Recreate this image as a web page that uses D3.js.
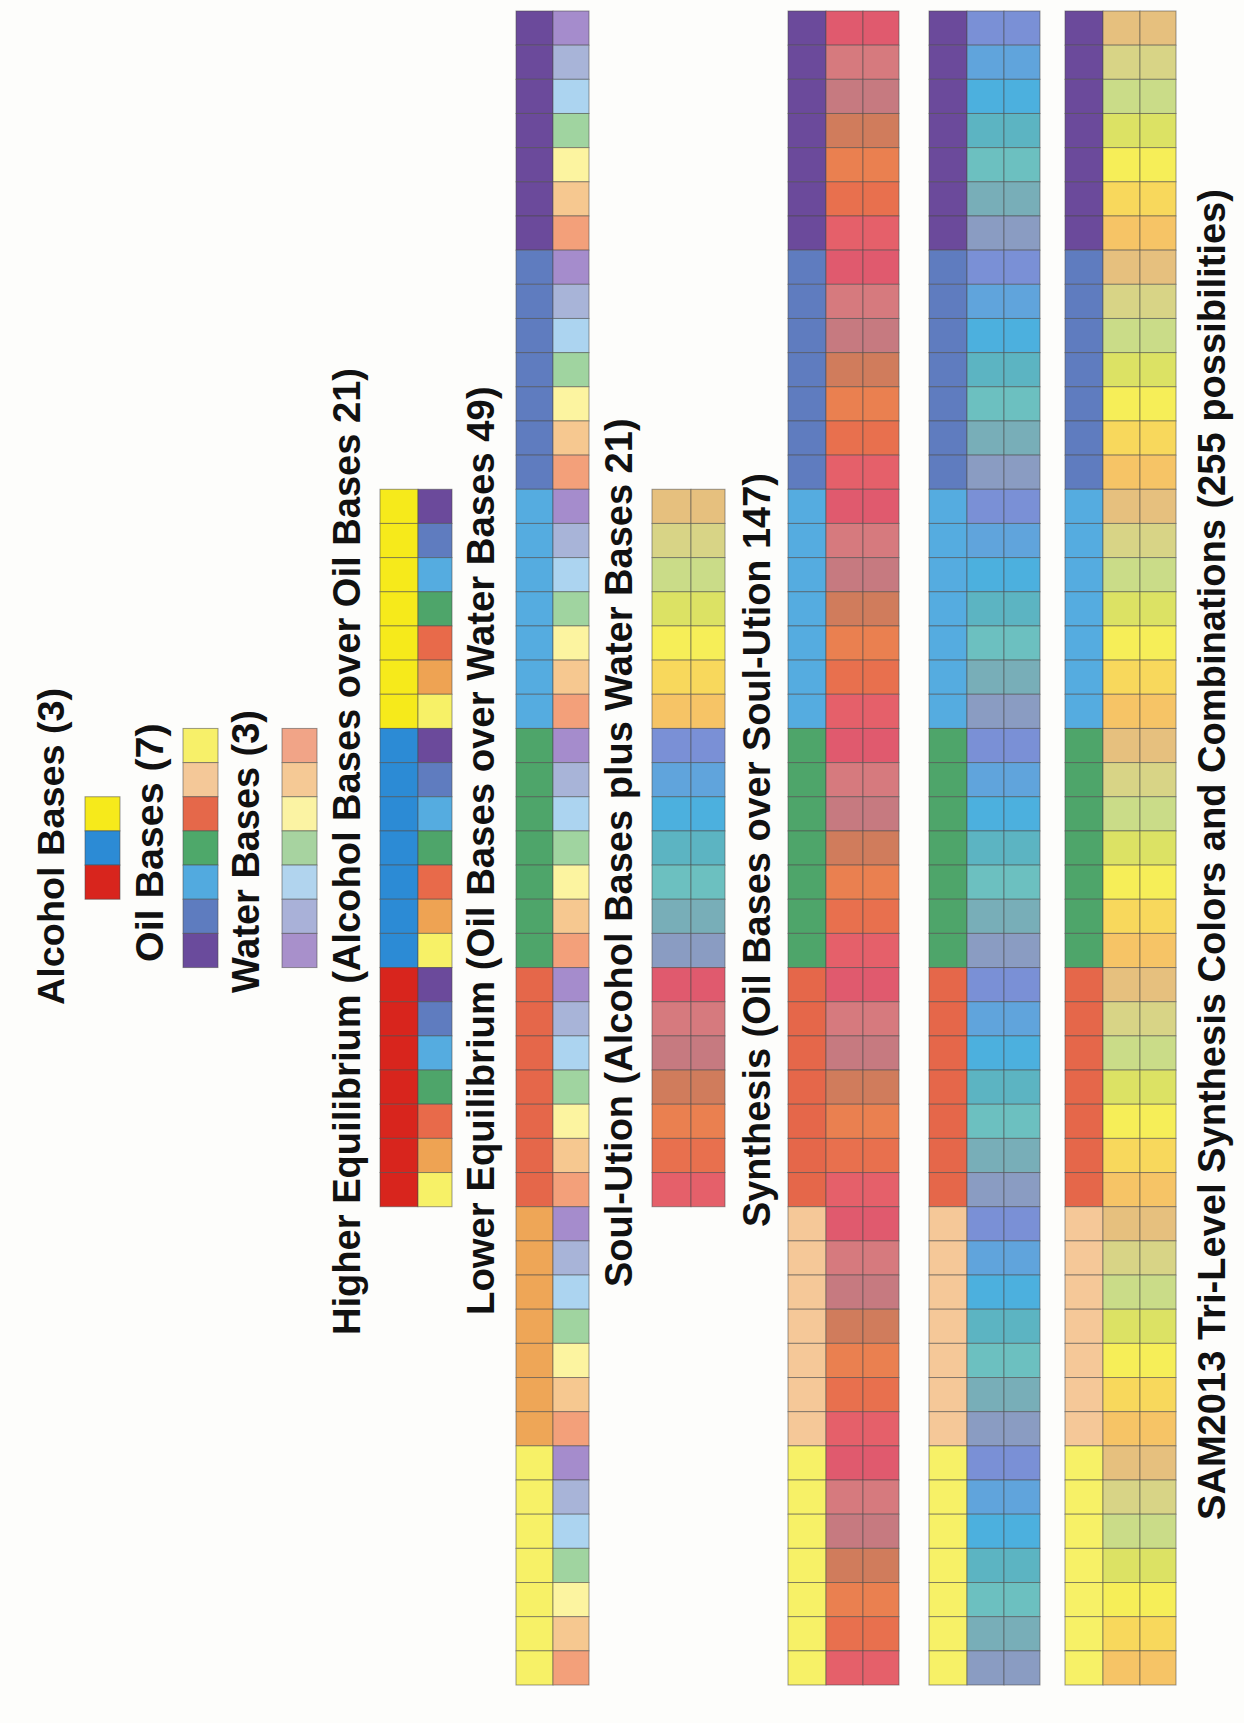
<!DOCTYPE html>
<html>
<head>
<meta charset="utf-8">
<script src="https://cdn.jsdelivr.net/npm/d3@7"></script>
<style>
  body { margin: 0; background: #fdfdfb; }
</style>
</head>
<body>
<div id="chart"></div>
<script>
// colours read top to bottom as they appear on the page
const alcoholBases = ["#f6ea1b", "#2c8bd5", "#d8251d"];
const oilBases = ["#f7f069", "#f4c898", "#e5684a", "#4ea86a", "#52aadf", "#5e7cbf", "#6a4b9c"];
const waterBases = ["#f1a487", "#f5c995", "#fbf3a3", "#a7d3a0", "#b1d4ee", "#a9b1d8", "#a890cb"];

// oil order used in the equilibrium grids (purple first)
const heOil = ["#6b4a9b", "#5f7cbf", "#55ace0", "#4ea56a", "#e86a4a", "#eea353", "#f7f167"];
const leOil = ["#6b4a9b", "#5f7cbf", "#55ace0", "#4ea56a", "#e5674a", "#eea657", "#f7f167"];
const leWater = ["#a58ccc", "#a8b4d8", "#acd4f0", "#a0d4a0", "#fcf4a0", "#f6c890", "#f3a07a"];

// soul-ution blends, one group per alcohol base
const soulYellow = ["#e6c07e", "#d8d486", "#cadc88", "#dce264", "#f6ee58", "#f8d85c", "#f6c466"];
const soulBlue = ["#7a90d6", "#60a4dc", "#4cb0de", "#5cb4c2", "#6cc0c0", "#78aeb8", "#8a9cc2"];
const soulRed = ["#e05a6e", "#d67a7e", "#c67a80", "#d07c5c", "#ea8050", "#e8704e", "#e5606a"];

const synthOil = ["#6b4a9b", "#5f7cbf", "#55ace0", "#4ea56a", "#e5674a", "#f5c898", "#f7f167"];

const labels = [
    "Alcohol Bases (3)",
    "Oil Bases (7)",
    "Water Bases (3)",
    "Higher Equilibrium (Alcohol Bases over Oil Bases 21)",
    "Lower Equilibrium (Oil Bases over Water Bases 49)",
    "Soul-Ution (Alcohol Bases plus Water Bases 21)",
    "Synthesis (Oil Bases over Soul-Ution 147)",
    "SAM2013 Tri-Level Synthesis Colors and Combinations (255 possibilities)"
];

const width = 1244, height = 1723;

const svg = d3.select("#chart")
    .append("svg")
    .attr("width", width)
    .attr("height", height);

svg.append("rect")
    .attr("width", width)
    .attr("height", height)
    .attr("fill", "#fdfdfb");

// one band per row, 49 rows down the page
const y = d3.scaleBand()
    .domain(d3.range(49))
    .range([11, 1685]);

const cells = [];
function column(x0, x1, startRow, colors) {
    colors.forEach((c, i) => cells.push({ x0, x1, row: startRow + i, fill: c }));
}

// single swatches
column(85, 120, 23, alcoholBases);
column(183, 218, 21, oilBases);
column(282, 317, 21, waterBases);

// higher equilibrium: alcohol over oil
alcoholBases.forEach((a, i) => {
    heOil.forEach((o, j) => {
        const r = 14 + i * 7 + j;
        cells.push({ x0: 380, x1: 418, row: r, fill: a });
        cells.push({ x0: 418, x1: 452, row: r, fill: o });
    });
});

// lower equilibrium: oil over water
leOil.forEach((o, i) => {
    leWater.forEach((w, j) => {
        const r = i * 7 + j;
        cells.push({ x0: 516, x1: 553, row: r, fill: o });
        cells.push({ x0: 553, x1: 589, row: r, fill: w });
    });
});

// soul-ution
[soulYellow, soulBlue, soulRed].forEach((g, i) => {
    g.forEach((c, j) => {
        const r = 14 + i * 7 + j;
        cells.push({ x0: 652, x1: 691, row: r, fill: c });
        cells.push({ x0: 691, x1: 725, row: r, fill: c });
    });
});

// synthesis panels
const panels = [
    { x: 788, soul: soulRed },
    { x: 929, soul: soulBlue },
    { x: 1065, soul: soulYellow }
];
panels.forEach(p => {
    synthOil.forEach((o, i) => {
        p.soul.forEach((c, j) => {
            const r = i * 7 + j;
            cells.push({ x0: p.x, x1: p.x + 38, row: r, fill: o });
            cells.push({ x0: p.x + 38, x1: p.x + 75, row: r, fill: c });
            cells.push({ x0: p.x + 75, x1: p.x + 111, row: r, fill: c });
        });
    });
});

svg.selectAll(".cell")
    .data(cells)
    .enter()
    .append("rect")
    .attr("class", "cell")
    .attr("x", d => d.x0)
    .attr("y", d => y(d.row))
    .attr("width", d => d.x1 - d.x0)
    .attr("height", y.bandwidth())
    .attr("fill", d => d.fill)
    .attr("stroke", "#4a4a4a")
    .attr("stroke-opacity", 0.55)
    .attr("stroke-width", 1);

// rotated labels: baseline x, bottom y, and the length each runs in the original
const labelPos = [
    { x: 64, y: 1005, len: 317 },
    { x: 163, y: 962, len: 239 },
    { x: 259, y: 993, len: 283 },
    { x: 360, y: 1335, len: 967 },
    { x: 494, y: 1315, len: 928 },
    { x: 632, y: 1287, len: 869 },
    { x: 770, y: 1227, len: 755 },
    { x: 1225, y: 1520, len: 1332 }
];

svg.selectAll(".label")
    .data(labels)
    .enter()
    .append("text")
    .attr("class", "label")
    .attr("transform", (d, i) => `translate(${labelPos[i].x},${labelPos[i].y}) rotate(-90)`)
    .attr("font-family", "Liberation Sans, Arial, sans-serif")
    .attr("font-weight", "bold")
    .attr("font-size", 38)
    .attr("fill", "#111")
    .text(d => d)
    .each(function(d, i) {
        // nudge the size so each label spans about as far as in the original
        const len = this.getComputedTextLength();
        const size = Math.max(35, Math.min(41, 38 * labelPos[i].len / len));
        d3.select(this).attr("font-size", size.toFixed(1));
    });
</script>
</body>
</html>
